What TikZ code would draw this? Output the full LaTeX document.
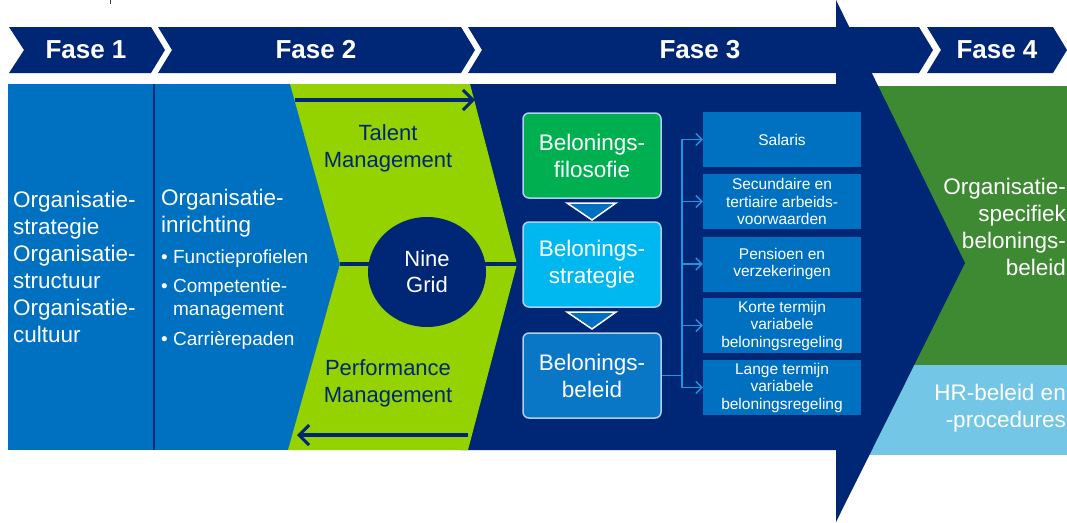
\documentclass[tikz,border=0pt]{standalone}
\usepackage{fontspec}
\setmainfont{Liberation Sans}
\usetikzlibrary{arrows.meta,shapes.geometric}
\definecolor{navy}{RGB}{0,39,118}
\definecolor{midblue}{RGB}{0,112,192}
\definecolor{lime}{RGB}{148,210,0}
\definecolor{filoc}{RGB}{0,176,80}
\definecolor{stratc}{RGB}{0,184,240}
\definecolor{beleidc}{RGB}{10,118,198}
\definecolor{darkgreen}{RGB}{62,138,50}
\definecolor{lightblue}{RGB}{116,198,230}
\definecolor{boxline}{RGB}{175,208,238}
\definecolor{connc}{RGB}{30,150,225}
\begin{document}
\begin{tikzpicture}[x=1pt,y=-1pt,
  fasetext/.style={font=\fontsize{26}{30}\selectfont\bfseries,text=white,inner sep=0},
  bodytext/.style={font=\fontsize{22.5}{27}\selectfont,text=white,inner sep=0},
  bullettext/.style={font=\fontsize{19}{23}\selectfont,text=white,inner sep=0,align=left},
  navytext/.style={font=\fontsize{22}{27}\selectfont,text=navy,inner sep=0,align=center},
  bigbox/.style={draw=boxline,line width=1.5,rounded corners=6,minimum width=138,minimum height=85,
    font=\fontsize{22.5}{27}\selectfont,text=white,align=center,inner sep=0},
  smallbox/.style={fill=midblue,minimum width=158,minimum height=55,
    font=\fontsize{15.5}{17.5}\selectfont,text=white,align=center,inner sep=0},
  thickarrow/.style={navy,line width=3.5,-{Straight Barb[length=10,width=20,line width=3]}},
  connline/.style={connc,line width=1.3},
  connarrow/.style={connc,line width=1.3,-{Straight Barb[length=6,width=12,line width=1.3]}},
  tri/.style={fill=midblue,draw=white,line width=1.5,line join=miter}
]
\useasboundingbox (0,0) rectangle (1067,522);
\fill[white] (0,0) rectangle (1067,522);
\draw[black!75,line width=1] (110,0) -- (110,4);

% Fase 4 body
\fill[darkgreen] (836,86) rectangle (1067,365);
\fill[lightblue] (836,365) rectangle (1067,455);
% Fase 3 big arrow
\fill[navy] (460,84) -- (836,84) -- (836,0) -- (965,263) -- (836,522) -- (836,450) -- (460,450) -- cycle;
% Fase 1/2 body
\fill[midblue] (8,84) rectangle (400,450);
% green chevron
\fill[lime] (290,84) -- (470,84) -- (517,264) -- (468,450) -- (288,450) -- (340,264) -- cycle;
% divider
\draw[navy,line width=2.5] (154,84) -- (154,450);

% banner
\fill[navy] (9,27) -- (151,27) -- (165,50) -- (151,73) -- (9,73) -- (24,50) -- cycle;
\fill[navy] (158,27) -- (461,27) -- (475,50) -- (461,73) -- (158,73) -- (172,50) -- cycle;
\fill[navy] (468,27) -- (919,27) -- (933,50) -- (919,73) -- (468,73) -- (482,50) -- cycle;
\fill[navy] (927,27) -- (1053,27) -- (1067,50) -- (1053,73) -- (927,73) -- (941,50) -- cycle;
\node[fasetext] (f1) at (86,50) {Fase 1};
\node[fasetext] (f2) at (316,50) {Fase 2};
\node[fasetext] (f3) at (700,50) {Fase 3};
\node[fasetext] (f4) at (997,50) {Fase 4};

% column 1
\node[bodytext,align=left,anchor=base west] (c1) at (13,342)
  {Organisatie-\\strategie\\Organisatie-\\structuur\\Organisatie-\\cultuur};
% column 2
\node[bodytext,align=left,anchor=base west] (c2) at (161,232) {Organisatie-\\inrichting};
\node[bullettext,anchor=base west] (b1) at (161,263) {\textbullet\ Functieprofielen};
\node[bullettext,anchor=base west] (b2) at (161,315) {\textbullet\ Competentie-\\\hphantom{\textbullet\ }management};
\node[bullettext,anchor=base west] (b3) at (161,345) {\textbullet\ Carri\`erepaden};

% talent / performance
\coordinate (ta) at (295,100);
\coordinate (tb) at (475,100);
\coordinate (pa) at (468,435);
\coordinate (pb) at (297,435);
\draw[thickarrow] (ta) -- (tb);
\draw[thickarrow] (pa) -- (pb);
\node[navytext,anchor=base] (talent) at (388,167) {Talent\\Management};
\node[navytext,anchor=base] (perf) at (388,402) {Performance\\Management};

% nine grid
\coordinate (gl) at (340,264);
\coordinate (gr) at (517,264);
\draw[navy,line width=3.5] (gl) -- (gr);
\node[ellipse,fill=navy,minimum width=118,minimum height=110,inner sep=0,
  font=\fontsize{22}{26}\selectfont,text=white,align=center] (grid) at (427,272) {Nine\\Grid};

% belonings boxes
\node[bigbox,fill=filoc] (filo) at (592,155.5) {Belonings-\\filosofie};
\node[bigbox,fill=stratc] (strat) at (592,264.5) {Belonings-\\strategie};
\node[bigbox,fill=beleidc] (beleid) at (592,375.5) {Belonings-\\beleid};
\draw[tri] (567,203) -- (616,203) -- (592,220) -- cycle;
\draw[tri] (567,312) -- (616,312) -- (592,329) -- cycle;

% right boxes
\node[smallbox] (sal) at (782,139.5) {Salaris};
\node[smallbox] (sec) at (782,201.5) {Secundaire en\\tertiaire arbeids-\\voorwaarden};
\node[smallbox] (pen) at (782,264) {Pensioen en\\verzekeringen};
\node[smallbox] (kor) at (782,325.5) {Korte termijn\\variabele\\beloningsregeling};
\node[smallbox] (lan) at (782,387.5) {Lange termijn\\variabele\\beloningsregeling};

\coordinate (bus) at (682,375.5);
\draw[connline] (beleid.east) -- (bus);
\draw[connarrow] (bus) |- (sal.west);
\draw[connarrow] (bus) |- (sec.west);
\draw[connarrow] (bus) |- (pen.west);
\draw[connarrow] (bus) |- (kor.west);
\draw[connarrow] (bus) |- (lan.west);

% fase 4 texts
\node[bodytext,align=right,anchor=base east] (spec) at (1066,275)
  {Organisatie-\\specifiek\\belonings-\\beleid};
\node[bodytext,align=right,anchor=base east] (hr) at (1066,427)
  {HR-beleid en\\-procedures};
\end{tikzpicture}
\end{document}
